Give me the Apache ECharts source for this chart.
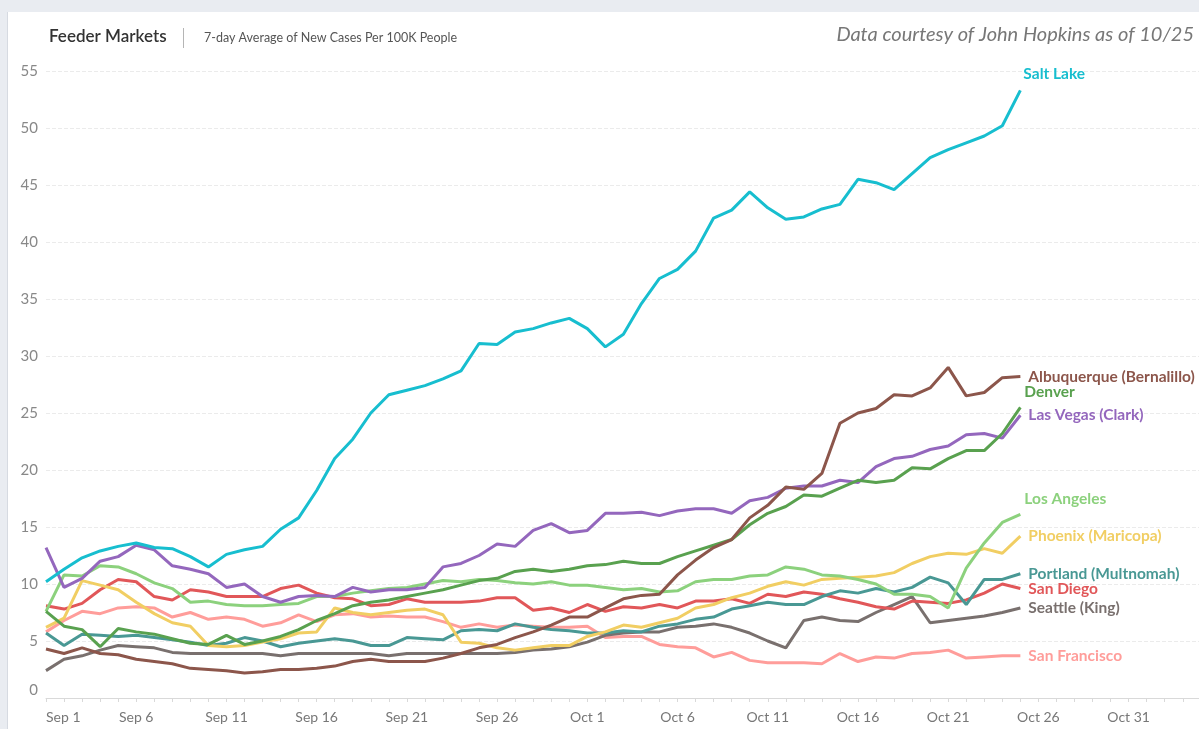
<!DOCTYPE html>
<html>
<head>
<meta charset="utf-8">
<script src="https://cdn.jsdelivr.net/npm/echarts@6/dist/echarts.min.js"></script>
<style>
  html, body { margin: 0; padding: 0; background: #e8ebf0; }
  #chart { width: 1199px; height: 729px; }
</style>
</head>
<body>
<div id="chart"></div>
<script>
// day index 0 = Sep 1 ... 54 = Oct 25
const tickLabels = ['Sep 1', 'Sep 6', 'Sep 11', 'Sep 16', 'Sep 21', 'Sep 26', 'Oct 1', 'Oct 6', 'Oct 11', 'Oct 16', 'Oct 21', 'Oct 26', 'Oct 31']

const saltLake = [10.2, 11.3, 12.3, 12.9, 13.3, 13.6, 13.2, 13.1, 12.4, 11.5, 12.6, 13.0, 13.3, 14.8, 15.8, 18.2, 21.0, 22.7, 25.0, 26.6, 27.0, 27.4, 28.0, 28.7, 31.1, 31.0, 32.1, 32.4, 32.9, 33.3, 32.4, 30.8, 31.9, 34.6, 36.8, 37.6, 39.2, 42.1, 42.8, 44.4, 43.0, 42.0, 42.2, 42.9, 43.3, 45.5, 45.2, 44.6, 46.0, 47.4, 48.1, 48.7, 49.3, 50.2, 53.3]
const albuquerque = [4.3, 3.9, 4.4, 3.9, 3.8, 3.4, 3.2, 3.0, 2.6, 2.5, 2.4, 2.2, 2.3, 2.5, 2.5, 2.6, 2.8, 3.2, 3.4, 3.2, 3.2, 3.2, 3.5, 3.9, 4.4, 4.7, 5.3, 5.8, 6.4, 7.1, 7.1, 7.9, 8.7, 9.0, 9.1, 10.8, 12.1, 13.2, 13.9, 15.8, 16.9, 18.5, 18.3, 19.7, 24.1, 25.0, 25.4, 26.6, 26.5, 27.2, 29.0, 26.5, 26.8, 28.1, 28.2]
const denver = [7.6, 6.3, 6.0, 4.5, 6.1, 5.8, 5.6, 5.2, 4.8, 4.7, 5.5, 4.7, 5.0, 5.4, 6.0, 6.8, 7.4, 8.1, 8.4, 8.6, 8.9, 9.2, 9.5, 9.9, 10.3, 10.5, 11.1, 11.3, 11.1, 11.3, 11.6, 11.7, 12.0, 11.8, 11.8, 12.4, 12.9, 13.4, 13.9, 15.2, 16.2, 16.8, 17.8, 17.7, 18.4, 19.1, 18.9, 19.1, 20.2, 20.1, 21.0, 21.7, 21.7, 23.2, 25.5]
const lasVegas = [13.2, 9.7, 10.5, 12.0, 12.4, 13.4, 13.0, 11.6, 11.3, 10.9, 9.7, 10.0, 8.9, 8.4, 8.9, 9.0, 8.9, 9.7, 9.3, 9.5, 9.5, 9.7, 11.5, 11.8, 12.5, 13.5, 13.3, 14.7, 15.3, 14.5, 14.7, 16.2, 16.2, 16.3, 16.0, 16.4, 16.6, 16.6, 16.2, 17.3, 17.6, 18.4, 18.6, 18.6, 19.1, 18.9, 20.3, 21.0, 21.2, 21.8, 22.1, 23.1, 23.2, 22.8, 24.8]
const losAngeles = [7.6, 10.8, 10.7, 11.6, 11.5, 10.9, 10.1, 9.6, 8.4, 8.5, 8.2, 8.1, 8.1, 8.2, 8.3, 8.9, 8.9, 9.2, 9.4, 9.6, 9.7, 10.0, 10.3, 10.2, 10.4, 10.3, 10.1, 10.0, 10.2, 9.9, 9.9, 9.7, 9.5, 9.6, 9.3, 9.4, 10.2, 10.4, 10.4, 10.7, 10.8, 11.5, 11.3, 10.8, 10.7, 10.4, 10.0, 9.1, 9.1, 8.9, 7.9, 11.4, 13.6, 15.4, 16.1]
const phoenix = [6.2, 7.0, 10.3, 9.9, 9.5, 8.4, 7.4, 6.6, 6.3, 4.6, 4.5, 4.6, 4.9, 5.2, 5.7, 5.8, 7.9, 7.5, 7.3, 7.5, 7.7, 7.8, 7.3, 4.9, 4.8, 4.4, 4.2, 4.4, 4.6, 4.6, 5.4, 5.8, 6.4, 6.2, 6.6, 7.0, 7.9, 8.2, 8.8, 9.2, 9.8, 10.2, 9.9, 10.4, 10.5, 10.6, 10.7, 11.0, 11.8, 12.4, 12.7, 12.6, 13.1, 12.7, 14.2]
const portland = [5.7, 4.6, 5.6, 5.5, 5.4, 5.5, 5.3, 5.1, 4.9, 4.6, 4.8, 5.3, 5.0, 4.5, 4.8, 5.0, 5.2, 5.0, 4.6, 4.6, 5.3, 5.2, 5.1, 5.9, 6.0, 5.9, 6.5, 6.2, 6.0, 5.9, 5.7, 5.7, 5.9, 5.8, 6.3, 6.5, 6.9, 7.1, 7.8, 8.1, 8.4, 8.2, 8.2, 8.9, 9.4, 9.2, 9.6, 9.3, 9.7, 10.6, 10.1, 8.2, 10.4, 10.4, 10.9]
const sanDiego = [8.1, 7.8, 8.3, 9.5, 10.4, 10.2, 8.9, 8.6, 9.5, 9.3, 8.9, 8.9, 8.9, 9.6, 9.9, 9.2, 8.8, 8.7, 8.1, 8.2, 8.7, 8.4, 8.4, 8.4, 8.5, 8.8, 8.8, 7.7, 7.9, 7.5, 8.2, 7.6, 8.0, 7.9, 8.2, 7.9, 8.5, 8.5, 8.7, 8.3, 9.1, 8.9, 9.3, 9.1, 8.7, 8.4, 8.0, 7.8, 8.5, 8.4, 8.3, 8.6, 9.2, 10.0, 9.6]
const seattle = [2.4, 3.4, 3.7, 4.2, 4.6, 4.5, 4.4, 4.0, 3.9, 3.9, 3.9, 3.9, 3.9, 3.7, 3.9, 3.9, 3.9, 3.9, 3.9, 3.7, 3.9, 3.9, 3.9, 3.9, 3.9, 3.9, 4.0, 4.2, 4.3, 4.5, 4.9, 5.5, 5.7, 5.8, 5.8, 6.2, 6.3, 6.5, 6.2, 5.7, 5.0, 4.4, 6.8, 7.1, 6.8, 6.7, 7.5, 8.2, 8.9, 6.6, 6.8, 7.0, 7.2, 7.5, 7.9]
const sanFrancisco = [5.8, 6.8, 7.6, 7.4, 7.9, 8.0, 7.9, 7.1, 7.5, 6.9, 7.1, 6.9, 6.3, 6.6, 7.3, 6.7, 7.3, 7.4, 7.1, 7.2, 7.1, 7.1, 6.7, 6.2, 6.5, 6.2, 6.4, 6.3, 6.2, 6.2, 6.3, 5.3, 5.4, 5.4, 4.7, 4.5, 4.4, 3.6, 4.0, 3.3, 3.1, 3.1, 3.1, 3.0, 3.9, 3.2, 3.6, 3.5, 3.9, 4.0, 4.2, 3.5, 3.6, 3.7, 3.7]

const markets = [
  { name: 'San Francisco', data: sanFrancisco, color: '#ff9d9a', offset: [0, 0] },
  { name: 'Seattle (King)', data: seattle, color: '#79706e', offset: [0, 0] },
  { name: 'San Diego', data: sanDiego, color: '#e15759', offset: [0, 0] },
  { name: 'Portland (Multnomah)', data: portland, color: '#499894', offset: [0, 0] },
  { name: 'Phoenix (Maricopa)', data: phoenix, color: '#f1ce63', offset: [0, 0] },
  { name: 'Los Angeles', data: losAngeles, color: '#8cd17d', offset: [-4, -15] },
  { name: 'Las Vegas (Clark)', data: lasVegas, color: '#9467bd', offset: [0, 0] },
  { name: 'Denver', data: denver, color: '#59a14f', offset: [-4, -15] },
  { name: 'Albuquerque (Bernalillo)', data: albuquerque, color: '#8c564b', offset: [0, 0] },
  { name: 'Salt Lake', data: saltLake, color: '#17becf', offset: [-5, -16] },
]

const chart = echarts.init(document.getElementById('chart'))

chart.setOption({
  backgroundColor: '#e9ecf1',
  animation: false,
  textStyle: { fontFamily: 'Lato' },
  graphic: [
    { type: 'rect', z: -10, shape: { x: 7, y: 12, width: 1, height: 717 }, style: { fill: '#d6dae1' } },
    { type: 'rect', z: -10, shape: { x: 8, y: 12, width: 1191, height: 717 }, style: { fill: '#ffffff' } },
    {
      type: 'text', z: 10,
      style: { x: 49, y: 37, text: 'Feeder Markets', fontSize: 17, fontWeight: 600, fontFamily: 'Lato', fill: '#333', verticalAlign: 'middle' },
    },
    { type: 'line', z: 10, shape: { x1: 183.5, y1: 28, x2: 183.5, y2: 48 }, style: { stroke: '#b5b5b5', lineWidth: 1 } },
    {
      type: 'text', z: 10,
      style: { x: 204, y: 38, text: '7-day Average of New Cases Per 100K People', fontSize: 12.5, fontFamily: 'Lato', fill: '#555', verticalAlign: 'middle' },
    },
    {
      type: 'text', z: 10,
      style: { x: 1194, y: 35, text: 'Data courtesy of John Hopkins as of 10/25', fontSize: 20, fontStyle: 'italic', fontFamily: 'Lato', fill: '#777', align: 'right', verticalAlign: 'middle' },
    },
  ],
  grid: { left: 46, right: 0, top: 71, bottom: 31, outerBoundsMode: 'none' },
  xAxis: {
    type: 'value',
    min: 0,
    max: 63.9,
    interval: 5,
    axisLine: { lineStyle: { color: '#d9d9d9' } },
    axisTick: { length: 4, lineStyle: { color: '#d9d9d9' } },
    minorTick: { show: true, splitNumber: 5, length: 4, lineStyle: { color: '#d9d9d9' } },
    splitLine: { show: false },
    axisLabel: {
      color: '#777',
      fontSize: 14,
      margin: 12,
      showMaxLabel: false,
      alignMinLabel: 'left',
      formatter: (v) => tickLabels[v / 5] || '',
    },
  },
  yAxis: {
    type: 'value',
    min: 0,
    max: 55,
    interval: 5,
    axisLine: { show: false },
    axisTick: { show: false },
    splitLine: { lineStyle: { color: '#ebebeb', type: [4, 2] } },
    axisLabel: { color: '#888', fontSize: 15, margin: 8, verticalAlignMinLabel: 'bottom' },
  },
  series: markets.map((m) => ({
    name: m.name,
    type: 'line',
    data: m.data.map((v, i) => [i, v]),
    symbol: 'none',
    color: m.color,
    lineStyle: { width: 3, color: m.color },
    endLabel: {
      show: true,
      formatter: '{a}',
      color: m.color,
      fontSize: 15.5,
      fontWeight: 'bold',
      fontFamily: 'Lato',
      offset: m.offset,
    },
  })),
})
</script>
</body>
</html>
